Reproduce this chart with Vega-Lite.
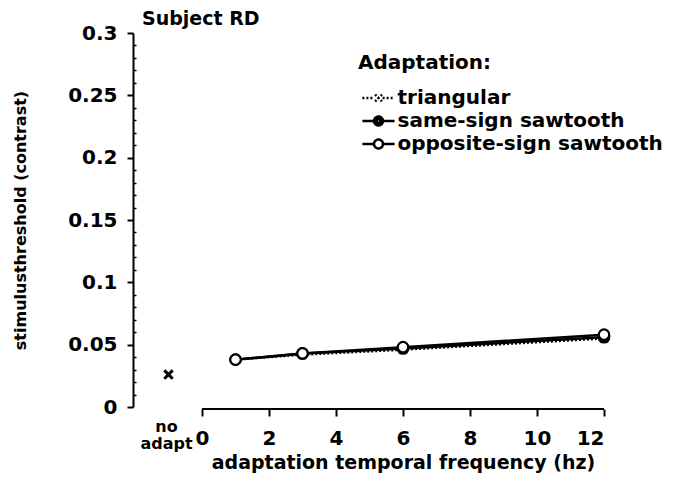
{
  "$schema": "https://vega.github.io/schema/vega-lite/v6.json",
  "width": 471,
  "height": 374,
  "autosize": "none",
  "padding": {"left": 133, "top": 33, "right": 76, "bottom": 84},
  "config": {
    "font": "DejaVu Sans",
    "view": {"stroke": null},
    "axis": {
      "grid": false,
      "domainColor": "black",
      "tickColor": "black",
      "labelColor": "black",
      "titleColor": "black",
      "labelFontWeight": "bold",
      "titleFontWeight": "bold"
    }
  },
  "title": {
    "text": "Subject RD",
    "anchor": "start",
    "frame": "group",
    "dx": 9,
    "offset": -6,
    "fontSize": 19,
    "fontWeight": "bold",
    "color": "black"
  },
  "datasets": {
    "adapt": [
      {"series": "triangular", "freq": 1, "threshold": 0.038},
      {"series": "triangular", "freq": 3, "threshold": 0.042},
      {"series": "triangular", "freq": 6, "threshold": 0.046},
      {"series": "triangular", "freq": 12, "threshold": 0.055},
      {"series": "same-sign sawtooth", "freq": 1, "threshold": 0.038},
      {"series": "same-sign sawtooth", "freq": 3, "threshold": 0.043},
      {"series": "same-sign sawtooth", "freq": 6, "threshold": 0.047},
      {"series": "same-sign sawtooth", "freq": 12, "threshold": 0.056},
      {"series": "opposite-sign sawtooth", "freq": 1, "threshold": 0.038},
      {"series": "opposite-sign sawtooth", "freq": 3, "threshold": 0.043},
      {"series": "opposite-sign sawtooth", "freq": 6, "threshold": 0.048},
      {"series": "opposite-sign sawtooth", "freq": 12, "threshold": 0.058}
    ],
    "baseline": [
      {"freq": -1, "threshold": 0.026, "label": "no adapt"}
    ],
    "freqAxis": [
      {"from": 0, "to": 12, "level": 0}
    ]
  },
  "resolve": {
    "axis": {"x": "independent", "y": "independent"}
  },
  "layer": [
    {
      "data": {"name": "freqAxis"},
      "mark": {"type": "rule", "color": "black", "strokeWidth": 2, "yOffset": 2},
      "encoding": {
        "x": {
          "field": "from",
          "type": "quantitative",
          "scale": {"domain": [-2.06, 12], "nice": false, "zero": false},
          "axis": {
            "orient": "bottom",
            "values": [0, 2, 4, 6, 8, 10, 12],
            "domain": false,
            "offset": 2,
            "tickSize": 7,
            "tickWidth": 2,
            "labelFontSize": 20,
            "labelPadding": 12,
            "title": "adaptation temporal frequency (hz)",
            "titleFontSize": 19,
            "titleX": 270,
            "titlePadding": 5
          }
        },
        "x2": {"field": "to"},
        "y": {
          "field": "level",
          "type": "quantitative",
          "scale": {"domain": [0, 0.3], "nice": false},
          "axis": {
            "orient": "left",
            "values": [0.01, 0.02, 0.03, 0.04, 0.06, 0.07, 0.08, 0.09, 0.11, 0.12, 0.13, 0.14, 0.16, 0.17, 0.18, 0.19, 0.21, 0.22, 0.23, 0.24, 0.26, 0.27, 0.28, 0.29],
            "labels": false,
            "domain": false,
            "title": null,
            "tickSize": -3,
            "tickWidth": 1.5
          }
        }
      }
    },
    {
      "data": {"name": "adapt"},
      "transform": [{"filter": "datum.series !== 'triangular'"}],
      "mark": {"type": "line", "color": "black", "strokeWidth": 2.5},
      "encoding": {
        "x": {"field": "freq", "type": "quantitative", "axis": null},
        "y": {
          "field": "threshold",
          "type": "quantitative",
          "axis": {
            "orient": "left",
            "values": [0, 0.05, 0.1, 0.15, 0.2, 0.25, 0.3],
            "format": ".2~f",
            "domainWidth": 2,
            "tickSize": 6,
            "tickWidth": 2,
            "labelFontSize": 20,
            "labelPadding": 10,
            "title": "stimulusthreshold (contrast)",
            "titleFontSize": 16,
            "titleX": -113,
            "titleBaseline": "middle"
          }
        },
        "detail": {"field": "series", "type": "nominal"}
      }
    },
    {
      "data": {"name": "adapt"},
      "transform": [{"filter": "datum.series === 'triangular'"}],
      "mark": {"type": "line", "color": "black", "strokeWidth": 2.5, "strokeDash": [2, 2]},
      "encoding": {
        "x": {"field": "freq", "type": "quantitative", "axis": null},
        "y": {"field": "threshold", "type": "quantitative", "axis": null}
      }
    },
    {
      "data": {"name": "adapt"},
      "transform": [{"filter": "datum.series === 'triangular'"}],
      "mark": {"type": "point", "shape": "M-1,-1L1,1M-1,1L1,-1", "size": 60, "stroke": "black", "strokeWidth": 2.5, "opacity": 1},
      "encoding": {
        "x": {"field": "freq", "type": "quantitative", "axis": null},
        "y": {"field": "threshold", "type": "quantitative", "axis": null}
      }
    },
    {
      "data": {"name": "adapt"},
      "transform": [{"filter": "datum.series === 'same-sign sawtooth'"}],
      "mark": {"type": "point", "shape": "circle", "size": 110, "fill": "black", "fillOpacity": 1, "stroke": "black", "strokeWidth": 2.2, "opacity": 1},
      "encoding": {
        "x": {"field": "freq", "type": "quantitative", "axis": null},
        "y": {"field": "threshold", "type": "quantitative", "axis": null}
      }
    },
    {
      "data": {"name": "adapt"},
      "transform": [{"filter": "datum.series === 'opposite-sign sawtooth'"}],
      "mark": {"type": "point", "shape": "circle", "size": 110, "fill": "white", "fillOpacity": 1, "stroke": "black", "strokeWidth": 2.2, "opacity": 1},
      "encoding": {
        "x": {"field": "freq", "type": "quantitative", "axis": null},
        "y": {"field": "threshold", "type": "quantitative", "axis": null}
      }
    },
    {
      "data": {"name": "adapt"},
      "transform": [{"filter": "datum.freq > 100"}],
      "mark": {"type": "point", "filled": false, "size": 529, "color": "black", "strokeWidth": 2.5, "opacity": 1},
      "encoding": {
        "x": {"field": "freq", "type": "quantitative", "axis": null},
        "y": {"field": "threshold", "type": "quantitative", "axis": null},
        "shape": {
          "field": "series",
          "type": "nominal",
          "scale": {
            "domain": ["triangular", "same-sign sawtooth", "opposite-sign sawtooth"],
            "range": [
              "M-1.4,0H-0.36M0.36,0H1.4M-0.3,-0.3L0.3,0.3M-0.3,0.3L0.3,-0.3",
              "M-1.4,0H-0.39M0.39,0H1.4M0.39,0A0.39,0.39,0,1,1,-0.39,0A0.39,0.39,0,1,1,0.39,0M0.2,0A0.2,0.2,0,1,1,-0.2,0A0.2,0.2,0,1,1,0.2,0M0.06,0A0.06,0.06,0,1,1,-0.06,0A0.06,0.06,0,1,1,0.06,0",
              "M-1.4,0H-0.39M0.39,0H1.4M0.39,0A0.39,0.39,0,1,1,-0.39,0A0.39,0.39,0,1,1,0.39,0"
            ]
          },
          "legend": {
            "title": "Adaptation:",
            "orient": "none",
            "legendX": 225,
            "legendY": 20,
            "titleFontSize": 20,
            "titleFontWeight": "bold",
            "titleColor": "black",
            "titlePadding": 12,
            "labelFontSize": 20,
            "labelFontWeight": "bold",
            "labelColor": "black",
            "labelLimit": 400,
            "labelOffset": 6,
            "rowPadding": 0,
            "symbolOffset": 7.5,
            "symbolSize": 529,
            "symbolStrokeWidth": 2.5,
            "symbolStrokeColor": "black",
            "symbolOpacity": 1
          }
        },
        "strokeDash": {
          "field": "series",
          "type": "nominal",
          "scale": {
            "domain": ["triangular", "same-sign sawtooth", "opposite-sign sawtooth"],
            "range": [[2, 2], [1, 0], [1, 0]]
          },
          "legend": {"title": "Adaptation:"}
        }
      }
    },
    {
      "data": {"name": "baseline"},
      "mark": {"type": "point", "shape": "M-1,-1L1,1M-1,1L1,-1", "size": 70, "stroke": "black", "strokeWidth": 3, "opacity": 1},
      "encoding": {
        "x": {"field": "freq", "type": "quantitative", "axis": null},
        "y": {"field": "threshold", "type": "quantitative", "axis": null}
      }
    },
    {
      "data": {"name": "baseline"},
      "mark": {"type": "text", "lineBreak": " ", "lineHeight": 17, "fontSize": 16, "fontWeight": "bold", "color": "black", "align": "center", "baseline": "alphabetic", "dx": -2, "dy": 25},
      "encoding": {
        "x": {"field": "freq", "type": "quantitative", "axis": null},
        "y": {"datum": 0, "type": "quantitative", "axis": null},
        "text": {"field": "label"}
      }
    }
  ]
}
